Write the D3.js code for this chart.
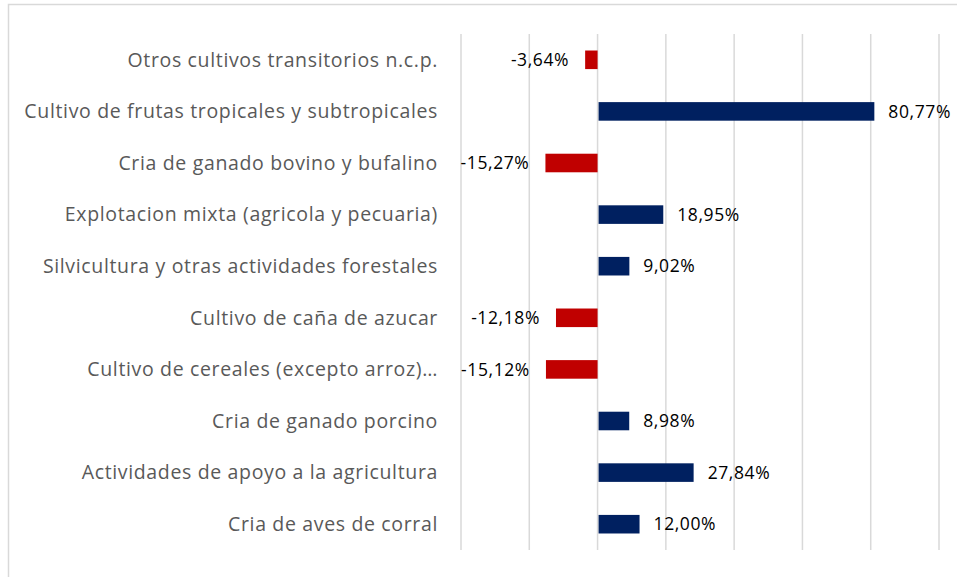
<html lang="es">
<head>
    <meta charset="UTF-8">
    <script src="https://d3js.org/d3.v7.min.js"></script>
    <style>
        body { margin: 0; background: #fff; }
    </style>
</head>
<body>
    <script type="text/javascript">

        let categories = [
            "Otros cultivos transitorios n.c.p.",
            "Cultivo de frutas tropicales y subtropicales",
            "Cria de ganado bovino y bufalino",
            "Explotacion mixta (agricola y pecuaria)",
            "Silvicultura y otras actividades forestales",
            "Cultivo de caña de azucar",
            "Cultivo de cereales (excepto arroz)…",
            "Cria de ganado porcino",
            "Actividades de apoyo a la agricultura",
            "Cria de aves de corral"
        ];
        let values = [-3.64, 80.77, -15.27, 18.95, 9.02, -12.18, -15.12, 8.98, 27.84, 12.00];
        let gridTicks = [-40, -20, 0, 20, 40, 60, 80, 100];

        let width = 957;
        let height = 577;

        let svg = d3.select('body')
            .append('svg')
            .attr('width', width)
            .attr('height', height);

        // chart border
        svg.append('rect')
            .attr('x', 8.5)
            .attr('y', 4.5)
            .attr('width', 1000)
            .attr('height', 1000)
            .attr('fill', 'none')
            .attr('stroke', '#d9d9d9')
            .attr('stroke-width', 1.5);

        let x = d3.scaleLinear()
            .domain([-40, 100])
            .range([461, 939]);

        let y = d3.scaleBand()
            .domain(categories)
            .range([34, 550])
            .paddingInner(0.64)
            .paddingOuter(0.32);

        svg.append('g')
            .selectAll('line')
            .data(gridTicks)
            .join('line')
            .attr('x1', d => x(d))
            .attr('x2', d => x(d))
            .attr('y1', 34)
            .attr('y2', 550)
            .attr('stroke', '#d9d9d9')
            .attr('stroke-width', 1.5);

        let fmt = v => v.toFixed(2).replace('.', ',') + '%';

        svg.append('g')
            .selectAll('rect')
            .data(values)
            .join('rect')
            .attr('x', d => x(Math.min(0, d)) + (d > 0 ? 1 : 0))
            .attr('y', (d, i) => y(categories[i]))
            .attr('width', d => Math.abs(x(d) - x(0)))
            .attr('height', y.bandwidth())
            .attr('fill', d => d < 0 ? '#c00000' : '#002060');

        svg.append('g')
            .selectAll('text')
            .data(values)
            .join('text')
            .attr('x', d => d < 0 ? x(d) - 16 : x(d) + 15)
            .attr('y', (d, i) => y(categories[i]) + y.bandwidth() / 2)
            .attr('dy', '0.35em')
            .attr('text-anchor', d => d < 0 ? 'end' : 'start')
            .attr('font-family', '"Open Sans", sans-serif')
            .attr('font-size', 17.5)
            .attr('letter-spacing', 0.6)
            .attr('fill', '#000')
            .text(d => fmt(d));

        let labels = svg.append('g')
            .selectAll('text')
            .data(categories)
            .join('text')
            .attr('x', 438)
            .attr('y', d => y(d) + y.bandwidth() / 2)
            .attr('dy', '0.35em')
            .attr('text-anchor', 'end')
            .attr('font-family', '"Open Sans", sans-serif')
            .attr('font-size', 19.5)
            .attr('fill', '#595959')
            .text(d => d);

        // stretch spacing so the longest label spans like the original
        let longest = labels.filter((d, i) => i === 1).node();
        let extra = (413 - longest.getComputedTextLength()) / (categories[1].length - 1);
        labels.attr('letter-spacing', extra);
    </script>
</body>
</html>
